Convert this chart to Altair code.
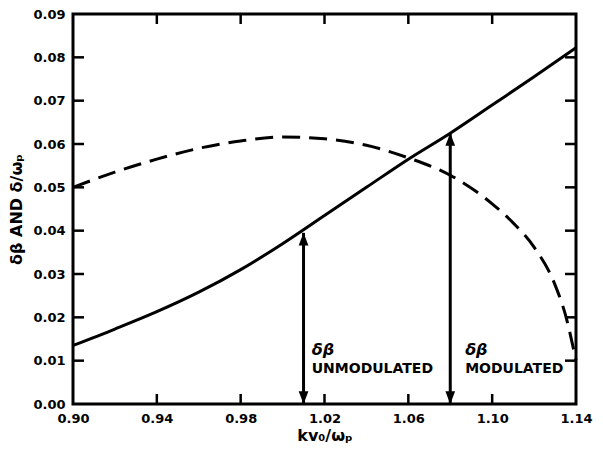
import altair as alt
import pandas as pd

# ---- data ----
solid_x = [0.90, 0.92, 0.94, 0.96, 0.98, 1.00, 1.02, 1.04, 1.06, 1.08, 1.10, 1.12, 1.14]
solid_y = [0.0135, 0.0173, 0.0213, 0.0258, 0.0310, 0.0370, 0.0435, 0.0500, 0.0565, 0.0625, 0.0690, 0.0755, 0.0822]

dash_x = [0.90, 0.92, 0.94, 0.96, 0.98, 1.00, 1.02, 1.04, 1.06, 1.08, 1.10, 1.11, 1.12, 1.13, 1.135, 1.14]
dash_y = [0.0500, 0.0535, 0.0565, 0.0590, 0.0607, 0.0616, 0.0612, 0.0597, 0.0568, 0.0528, 0.0462, 0.0418, 0.0362, 0.0275, 0.0205, 0.0100]

x_ticks = [0.90, 0.94, 0.98, 1.02, 1.06, 1.10, 1.14]
y_ticks = [0.00, 0.01, 0.02, 0.03, 0.04, 0.05, 0.06, 0.07, 0.08, 0.09]
x_inner_ticks = [0.94, 0.98, 1.02, 1.06, 1.10]
y_inner_ticks = [0.01, 0.02, 0.03, 0.04, 0.05, 0.06, 0.07, 0.08]

arrow_x = [1.01, 1.08]
arrow_bottom = [0.0, 0.0]
arrow_top = [0.0395, 0.0625]

label_x = [1.0139, 1.0871]
label_line1 = ["δβ", "δβ"]
label_line1_y = [0.0125, 0.0125]
label_line2 = ["UNMODULATED", "MODULATED"]
label_line2_y = [0.0081, 0.0081]

x_title = "kv₀/ωₚ"
y_title = "δβ AND δ/ωₚ"

W, H = 503, 390
FONT = "DejaVu Sans"

xs = alt.Scale(domain=[0.90, 1.14], nice=False, zero=False)
ys = alt.Scale(domain=[0.0, 0.09], nice=False, zero=True)

solid_df = pd.DataFrame({"x": solid_x, "y": solid_y})
dash_df = pd.DataFrame({"x": dash_x, "y": dash_y})
arrow_df = pd.DataFrame({"x": arrow_x, "y0": arrow_bottom, "y1": arrow_top})
lab_df = pd.DataFrame({"x": label_x, "t1": label_line1, "y1": label_line1_y,
                       "t2": label_line2, "y2": label_line2_y})
xt_df = pd.DataFrame({"x": x_inner_ticks})
yt_df = pd.DataFrame({"y": y_inner_ticks})

x_axis = alt.Axis(values=x_ticks, format=".2f", title=x_title, grid=False, domain=False,
                  ticks=False, labelPadding=8, labelFlush=False, labelFont=FONT,
                  labelFontWeight="bold", labelFontSize=13, labelColor="black",
                  titleFont=FONT, titleFontWeight="bold", titleFontSize=16,
                  titleColor="black", titlePadding=2)
y_axis = alt.Axis(values=y_ticks, format=".2f", title=y_title, grid=False, domain=False,
                  ticks=False, labelPadding=8, labelFlush=False, labelFont=FONT,
                  labelFontWeight="bold", labelFontSize=13, labelColor="black",
                  titleFont=FONT, titleFontWeight="bold", titleFontSize=16,
                  titleColor="black", titlePadding=8)


def X(field):
    return alt.X(field, scale=xs, axis=x_axis)


def Y(field):
    return alt.Y(field, scale=ys, axis=y_axis)


solid = alt.Chart(solid_df).mark_line(color="black", strokeWidth=3, interpolate="monotone").encode(
    x=X("x:Q"), y=Y("y:Q"))
dashed = alt.Chart(dash_df).mark_line(color="black", strokeWidth=3, strokeDash=[18, 9],
                                      interpolate="monotone").encode(
    x=X("x:Q"), y=Y("y:Q"))
arrows = alt.Chart(arrow_df).mark_rule(color="black", strokeWidth=3).encode(
    x=X("x:Q"), y=Y("y0:Q"), y2="y1:Q")
head_up = alt.Chart(arrow_df).mark_point(
    shape="M0,0 L-0.5,1.3 L0.5,1.3 Z", filled=True, color="black", opacity=1, size=380
).encode(x=X("x:Q"), y=Y("y1:Q"))
head_down = alt.Chart(arrow_df).mark_point(
    shape="M0,0 L-0.5,-1.3 L0.5,-1.3 Z", filled=True, color="black", opacity=1, size=380
).encode(x=X("x:Q"), y=Y("y0:Q"))

txt1 = alt.Chart(lab_df).mark_text(align="left", baseline="middle", font=FONT,
                                   fontSize=16, fontStyle="italic", fontWeight="bold",
                                   color="black").encode(
    x=X("x:Q"), y=Y("y1:Q"), text="t1:N")
txt2 = alt.Chart(lab_df).mark_text(align="left", baseline="middle", font=FONT,
                                   fontSize=14, fontWeight="bold", color="black").encode(
    x=X("x:Q"), y=Y("y2:Q"), text="t2:N")

tick_top = alt.Chart(xt_df).mark_rule(color="black", strokeWidth=2.5).encode(
    x=X("x:Q"), y=alt.value(0), y2=alt.value(10))
tick_bot = alt.Chart(xt_df).mark_rule(color="black", strokeWidth=2.5).encode(
    x=X("x:Q"), y=alt.value(H), y2=alt.value(H - 10))
tick_left = alt.Chart(yt_df).mark_rule(color="black", strokeWidth=2.5).encode(
    y=Y("y:Q"), x=alt.value(0), x2=alt.value(11))
tick_right = alt.Chart(yt_df).mark_rule(color="black", strokeWidth=2.5).encode(
    y=Y("y:Q"), x=alt.value(W), x2=alt.value(W - 11))

chart = alt.layer(
    solid, dashed, arrows, head_up, head_down, txt1, txt2,
    tick_top, tick_bot, tick_left, tick_right,
).properties(
    width=W, height=H,
    autosize=alt.AutoSizeParams(type="none"),
    padding={"left": 65, "top": 6, "right": 19, "bottom": 42},
    background="white",
).configure_view(stroke="black", strokeWidth=3)

chart.save("out.html", embed_options={"renderer": "svg", "actions": False})
